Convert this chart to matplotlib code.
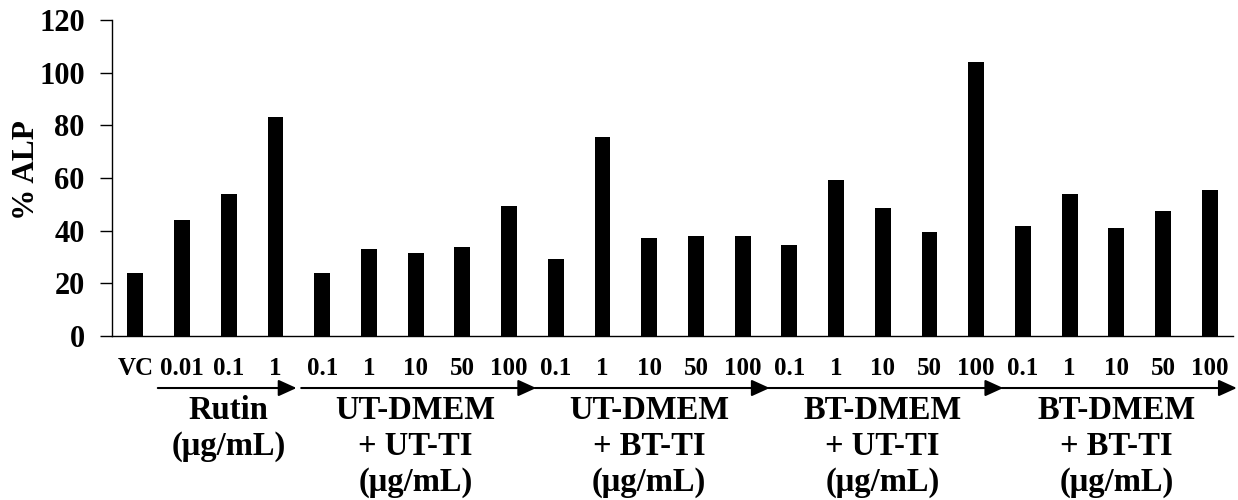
import matplotlib
matplotlib.use("Agg")
import matplotlib.pyplot as plt
from matplotlib.patches import FancyArrowPatch

# ---- data ----
tick_labels = ["VC", "0.01", "0.1", "1",
               "0.1", "1", "10", "50", "100",
               "0.1", "1", "10", "50", "100",
               "0.1", "1", "10", "50", "100",
               "0.1", "1", "10", "50", "100"]
alp_values = [24, 44, 54, 83.2,
              24, 33.2, 31.6, 33.9, 49.4,
              29.4, 75.7, 37.1, 37.8, 37.8,
              34.7, 59.4, 48.6, 39.4, 104.1,
              41.7, 54.0, 40.9, 47.3, 55.6]
group_names = ["Rutin\n(μg/mL)",
               "UT-DMEM\n+ UT-TI\n(μg/mL)",
               "UT-DMEM\n+ BT-TI\n(μg/mL)",
               "BT-DMEM\n+ UT-TI\n(μg/mL)",
               "BT-DMEM\n+ BT-TI\n(μg/mL)"]
group_start = [1, 4, 9, 14, 19]
group_end = [3, 8, 13, 18, 23]
y_ticks = [0, 20, 40, 60, 80, 100, 120]

plt.rcParams['font.family'] = ['Liberation Serif', 'DejaVu Serif']
plt.rcParams['font.weight'] = 'bold'

W, H = 1238, 500
fig = plt.figure(figsize=(W / 100, H / 100), dpi=100)
ax = fig.add_axes([0.0905, 0.328, 0.996 - 0.0905, 0.96 - 0.328])

x = list(range(len(alp_values)))
ax.bar(x, alp_values, width=0.34, color='black')

ax.set_xlim(-0.5, len(alp_values) - 0.5)
ax.set_ylim(0, 120)
ax.set_yticks(y_ticks)
ax.set_yticklabels([str(v) for v in y_ticks], fontsize=22, fontweight='bold')
ax.set_xticks(x)
ax.set_xticklabels(tick_labels, fontsize=18, fontweight='bold')
ax.tick_params(axis='x', length=0, pad=15)
ax.tick_params(axis='y', length=8.6, width=1.0, pad=11, direction='out')

for s in ['top', 'right']:
    ax.spines[s].set_visible(False)
for s in ['left', 'bottom']:
    ax.spines[s].set_linewidth(1.0)

fig.text(26 / W, 1 - 170 / H, "% ALP", rotation=90, ha='center', va='center',
         fontsize=22.5, fontweight='bold')

trans = ax.get_xaxis_transform()
arrow_y = -0.1646
for i, (s, e) in enumerate(zip(group_start, group_end)):
    x0 = s - 0.45 if i > 0 else s - 0.52
    x1 = e + 0.58 if i > 0 else e + 0.45
    arr = FancyArrowPatch((x0, arrow_y), (x1, arrow_y), transform=trans,
                          arrowstyle="-|>,head_length=11,head_width=5",
                          mutation_scale=1, color='black', linewidth=1.5,
                          shrinkA=0, shrinkB=0, clip_on=False)
    ax.add_patch(arr)
    cx = (s + e) / 2
    ax.text(cx, -0.188, group_names[i], transform=trans, ha='center', va='top',
            fontsize=23.5, fontweight='bold', linespacing=1.2, clip_on=False)

fig.savefig("out.png", dpi=100)
